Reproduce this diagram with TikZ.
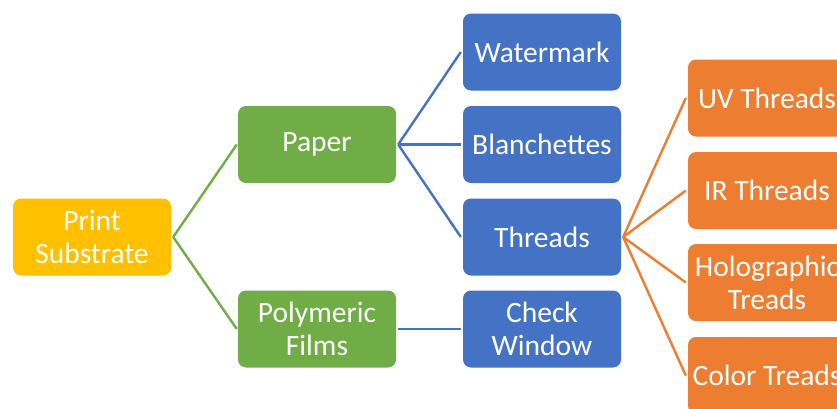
\documentclass[tikz,border=0pt]{standalone}
\usepackage{fontspec}
\setmainfont{Carlito}
\definecolor{cyellow}{HTML}{FFC000}
\definecolor{cgreen}{HTML}{70AD47}
\definecolor{cblue}{HTML}{4472C4}
\definecolor{corange}{HTML}{ED7D31}
\tikzset{
  box/.style={rounded corners=8pt, minimum width=158pt, minimum height=77pt, inner sep=0pt,
    text=white, align=center, font=\fontsize{29.5}{33}\selectfont},
  link/.style={line width=2.4pt},
}
\begin{document}
\begin{tikzpicture}[x=1pt,y=-1pt]
\useasboundingbox (0,0) rectangle (837,408);
\clip (0,0) rectangle (837,408);
% nodes
\node[box, fill=cyellow] (print) at (92,237) {Print\\Substrate};
\node[box, fill=cgreen] (paper) at (317,144.5) {Paper};
\node[box, fill=cgreen] (poly) at (317,329) {Polymeric\\Films};
\node[box, fill=cblue] (water) at (542,52) {Watermark};
\node[box, fill=cblue] (blan) at (542,144.5) {Blanchettes};
\node[box, fill=cblue] (threads) at (542,237) {Threads};
\node[box, fill=cblue] (check) at (542,329) {Check\\Window};
\node[box, fill=corange] (uv) at (767,98) {UV Threads};
\node[box, fill=corange] (ir) at (767,190.5) {IR Threads};
\node[box, fill=corange] (holo) at (767,282.5) {Holographic\\Treads};
\node[box, fill=corange] (color) at (767,375.5) {Color Treads};
% junctions
\coordinate (j1) at ([xshift=2pt]print.east);
\coordinate (j2) at ([xshift=2pt]paper.east);
\coordinate (j3) at ([xshift=2pt]poly.east);
\coordinate (j4) at ([xshift=2pt]threads.east);
% connectors
\draw[link, cgreen] (j1) -- ([xshift=-1pt]paper.west);
\draw[link, cgreen] (j1) -- ([xshift=-1pt]poly.west);
\draw[link, cblue] (j2) -- ([xshift=-2pt]water.west);
\draw[link, cblue] (j2) -- ([xshift=-2pt]blan.west);
\draw[link, cblue] (j2) -- ([xshift=-2pt]threads.west);
\draw[link, cblue] (j3) -- ([xshift=-2pt]check.west);
\draw[link, corange] (j4) -- ([xshift=-2pt]uv.west);
\draw[link, corange] (j4) -- ([xshift=-2pt]ir.west);
\draw[link, corange] (j4) -- ([xshift=-2pt]holo.west);
\draw[link, corange] (j4) -- ([xshift=-2pt]color.west);
\end{tikzpicture}
\end{document}
